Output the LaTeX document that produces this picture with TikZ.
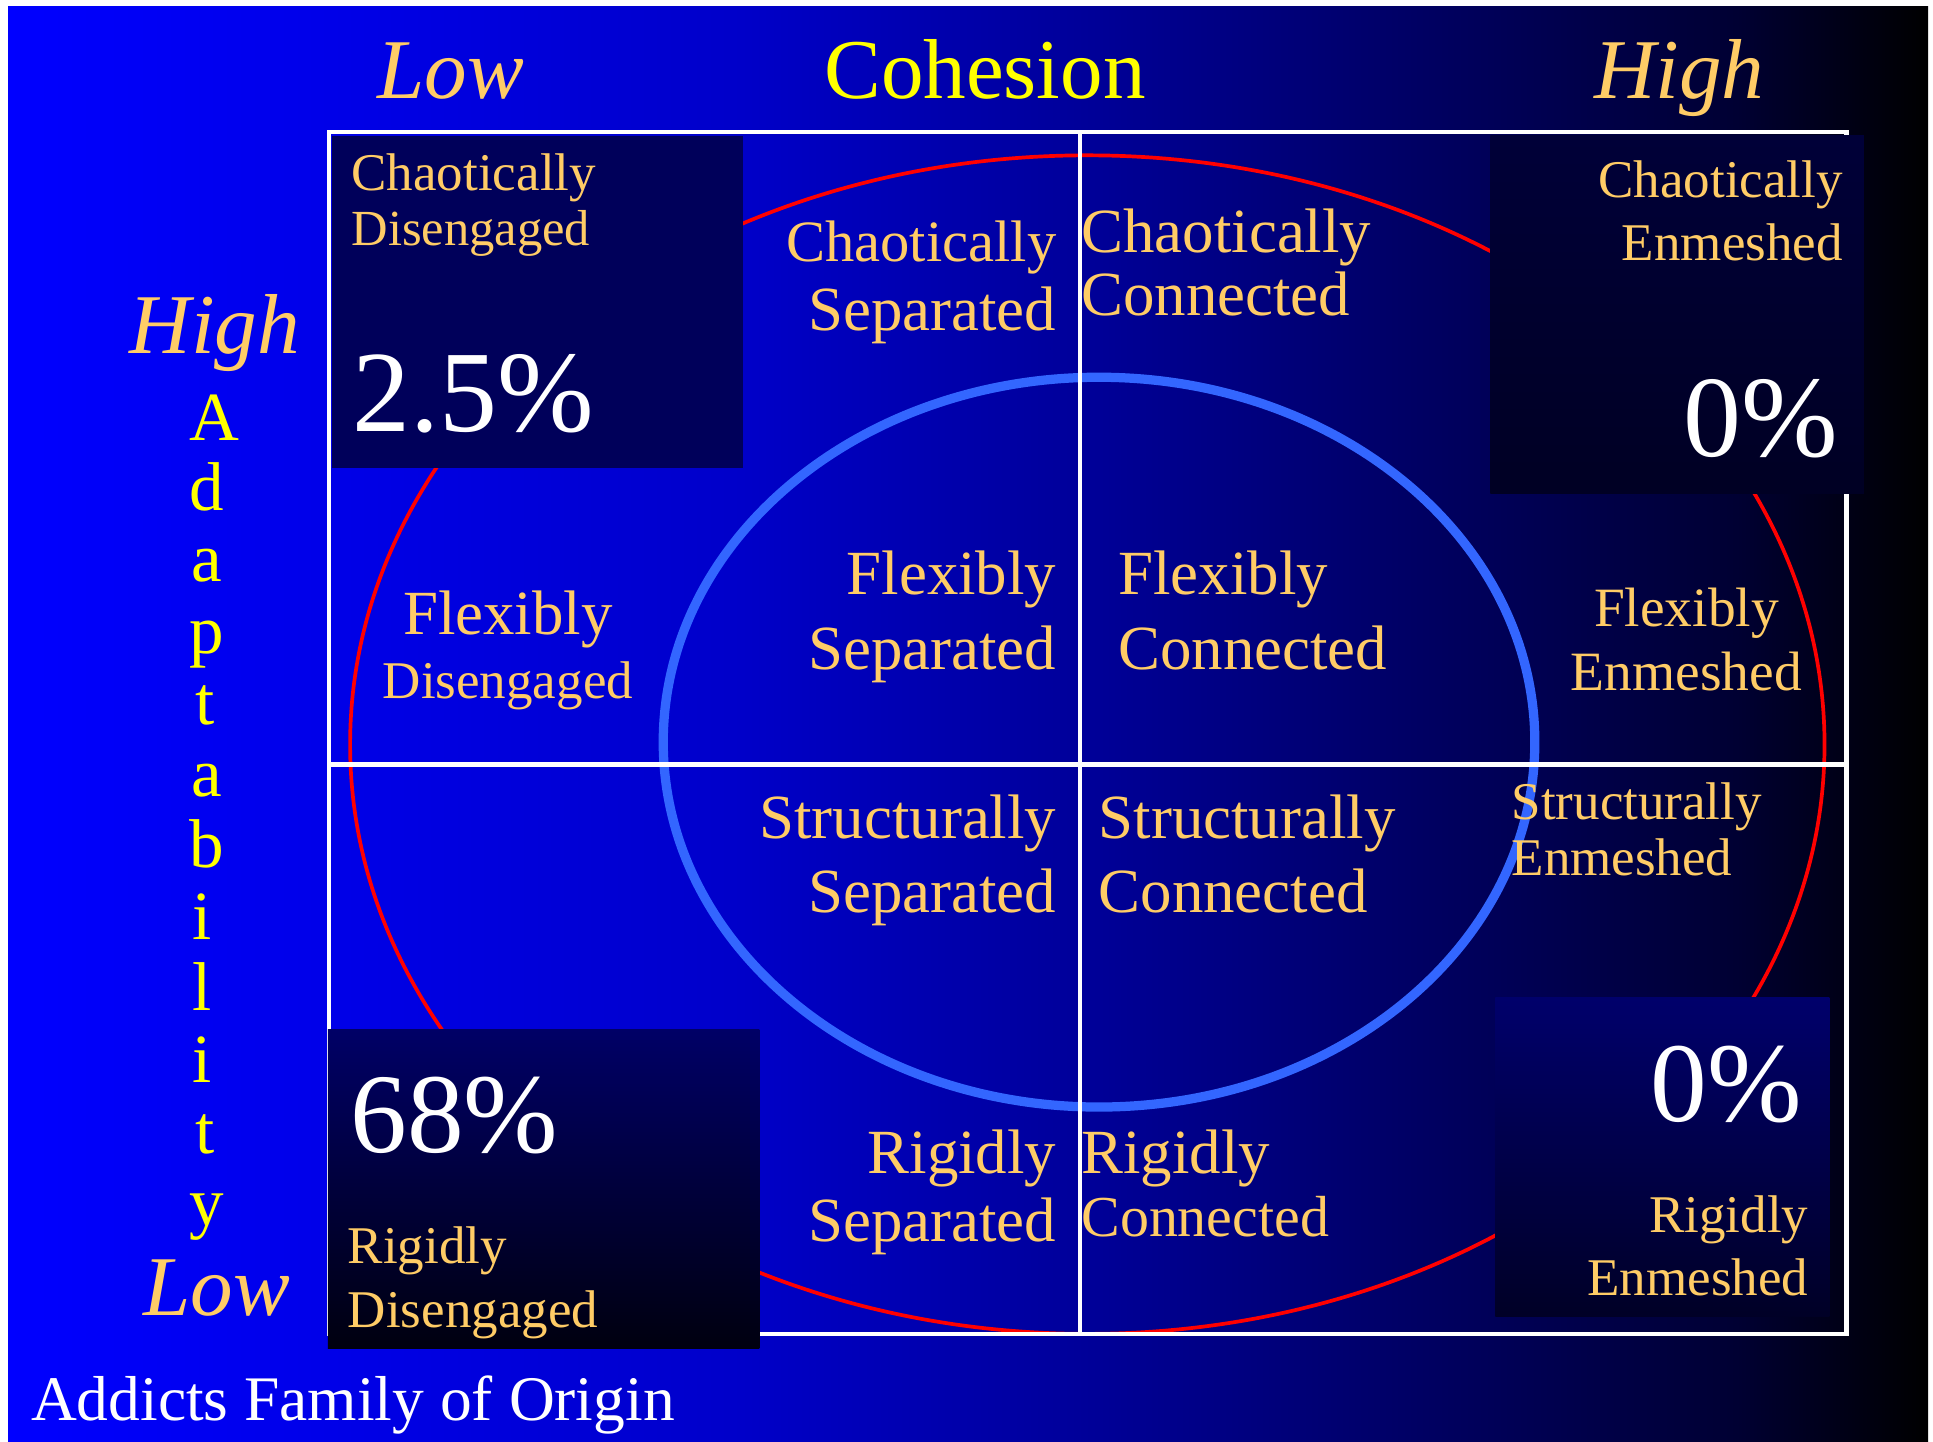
\documentclass[tikz,border=0pt]{standalone}
\usepackage{fontspec}
\setmainfont{Liberation Serif}
\definecolor{goldc}{RGB}{255,204,102}
\definecolor{ylw}{RGB}{255,255,0}
\definecolor{ringblue}{RGB}{51,102,255}
\definecolor{cdfill}{RGB}{0,0,90}
\pgfdeclarehorizontalshading{bgshade}{100bp}{rgb(0bp)=(0,0,1); rgb(25bp)=(0,0,1); rgb(32.5bp)=(0,0,0.92); rgb(44bp)=(0,0,0.79); rgb(53.5bp)=(0,0,0.59); rgb(62.5bp)=(0,0,0.37); rgb(70bp)=(0,0,0.2); rgb(75bp)=(0,0,0); rgb(100bp)=(0,0,0)}
\tikzset{
  lab/.style={text=goldc, inner sep=0pt},
  bigf/.style={font=\fontsize{51}{51}\selectfont},
  csf/.style={font=\fontsize{47.5}{47.5}\selectfont},
  midf/.style={font=\fontsize{47}{47}\selectfont},
  smallf/.style={font=\fontsize{43}{43}\selectfont},
  tinyf/.style={font=\fontsize{41}{41}\selectfont},
  enmf/.style={font=\fontsize{45}{45}\selectfont},
  pct/.style={text=white, inner sep=0pt, font=\fontsize{94}{94}\selectfont},
  pctb/.style={text=white, inner sep=0pt, font=\fontsize{92}{92}\selectfont},
  axlab/.style={text=goldc, inner sep=0pt, font=\fontsize{69}{69}\selectfont\itshape},
  ttl/.style={text=ylw, inner sep=0pt, font=\fontsize{69}{69}\selectfont},
  adletter/.style={text=ylw, inner sep=0pt, font=\fontsize{56}{56}\selectfont},
  gridline/.style={white, line width=3.8pt},
}
\begin{document}
\begin{tikzpicture}[x=1pt,y=-1pt]
\useasboundingbox (0,0) rectangle (1568,1169);
\fill[white] (0,0) rectangle (1568,1169);
\shade[shading=bgshade] (6.5,5) rectangle (1564,1169);

% outer (red) and inner (blue) rings
\draw[red, line width=3pt] (882,604) ellipse [x radius=598pt, y radius=478pt];
\draw[ringblue, line width=7.5pt] (891.5,602) ellipse [x radius=353.5pt, y radius=296pt];

% frame and quadrant lines
\coordinate (tl) at (267,107);
\coordinate (br) at (1498,1082);
\coordinate (vt) at (876,107);
\coordinate (vb) at (876,1082);
\coordinate (hl) at (267,620);
\coordinate (hr) at (1498,620);
\draw[gridline] (tl) rectangle (br);
\draw[gridline] (vt) -- (vb);
\draw[gridline] (hl) -- (hr);

% corner boxes
\fill[cdfill] (269,110) rectangle (603,380);
\shade[top color={rgb,1:red,0;green,0;blue,0.22}, middle color={rgb,1:red,0;green,0;blue,0.4}, bottom color={rgb,1:red,0;green,0;blue,0.14}] (1209,110) rectangle (1512,400);
\shade[top color={rgb,1:red,0;green,0;blue,0.4}, bottom color={rgb,1:red,0;green,0;blue,0.06}] (266,835.5) rectangle (616,1094);
\shade[top color={rgb,1:red,0;green,0;blue,0.42}, bottom color={rgb,1:red,0;green,0;blue,0.15}] (1213,809.5) rectangle (1484,1068);

% axis titles
\node[axlab, anchor=base west] (lowc) at (306,80) {Low};
\node[ttl, anchor=base] (coh) at (799,80) {Cohesion};
\node[axlab, anchor=base west] (highc) at (1293,80) {High};
\node[axlab, anchor=base west] (higha) at (105,287) {High};
\node[axlab, anchor=base west] (lowa) at (116,1067) {Low};
\foreach \l/\xx/\yy [count=\i] in {A/174/357, d/168/414, a/168/472, p/168/530, t/166/588, a/168/646, b/168/704, i/164/762, l/164/820, i/164/878, t/166/936, y/168/994}
  \node[adletter, anchor=base] (ad\i) at (\xx,\yy) {\l};

\node[text=white, inner sep=0pt, anchor=base west, font=\fontsize{51.5}{51.5}\selectfont] (origin) at (25,1152) {Addicts Family of Origin};

% top row
\node[lab, smallf, anchor=base west] (cd1) at (285,154.5) {Chaotically};
\node[lab, tinyf, anchor=base west] (cd2) at (285,199.5) {Disengaged};
\node[pct, anchor=base west] (cdp) at (286,350) {2.5\%};
\node[lab, csf, anchor=base east] (cs1) at (857,212) {Chaotically};
\node[lab, bigf, anchor=base east] (cs2) at (857,268) {Separated};
\node[lab, bigf, anchor=base west] (cc1) at (877,205) {Chaotically};
\node[lab, bigf, anchor=base west] (cc2) at (877,256) {Connected};
\node[lab, smallf, anchor=base east] (ce1) at (1495,160) {Chaotically};
\node[lab, smallf, anchor=base east] (ce2) at (1495,211) {Enmeshed};
\node[pct, anchor=base east] (cep) at (1491,370) {0\%};

% flexibly row
\node[lab, bigf, anchor=base] (fd1) at (412,515) {Flexibly};
\node[lab, smallf, anchor=base] (fd2) at (412,567) {Disengaged};
\node[lab, bigf, anchor=base east] (fs1) at (857,482) {Flexibly};
\node[lab, bigf, anchor=base east] (fs2) at (857,543) {Separated};
\node[lab, bigf, anchor=base west] (fc1) at (907,482) {Flexibly};
\node[lab, bigf, anchor=base west] (fc2) at (907,543) {Connected};
\node[lab, enmf, anchor=base] (fe1) at (1368,508) {Flexibly};
\node[lab, enmf, anchor=base] (fe2) at (1368,560) {Enmeshed};

% structurally row
\node[lab, bigf, anchor=base east] (ss1) at (857,680) {Structurally};
\node[lab, bigf, anchor=base east] (ss2) at (857,740) {Separated};
\node[lab, bigf, anchor=base west] (sc1) at (891,680) {Structurally};
\node[lab, bigf, anchor=base west] (sc2) at (891,740) {Connected};
\node[lab, smallf, anchor=base west] (se1) at (1226,665) {Structurally};
\node[lab, smallf, anchor=base west] (se2) at (1226,710) {Enmeshed};

% rigidly row
\node[pctb, anchor=base west] (rdp) at (284,935) {68\%};
\node[lab, smallf, anchor=base west] (rd1) at (282,1025) {Rigidly};
\node[lab, smallf, anchor=base west] (rd2) at (282,1077) {Disengaged};
\node[lab, bigf, anchor=base east] (rs1) at (857,952) {Rigidly};
\node[lab, bigf, anchor=base east] (rs2) at (857,1007) {Separated};
\node[lab, bigf, anchor=base west] (rc1) at (877,952) {Rigidly};
\node[lab, midf, anchor=base west] (rc2) at (877,1003) {Connected};
\node[pctb, anchor=base east] (rep) at (1462,910) {0\%};
\node[lab, smallf, anchor=base east] (re1) at (1467,1000) {Rigidly};
\node[lab, smallf, anchor=base east] (re2) at (1467,1050.5) {Enmeshed};
\end{tikzpicture}
\end{document}
